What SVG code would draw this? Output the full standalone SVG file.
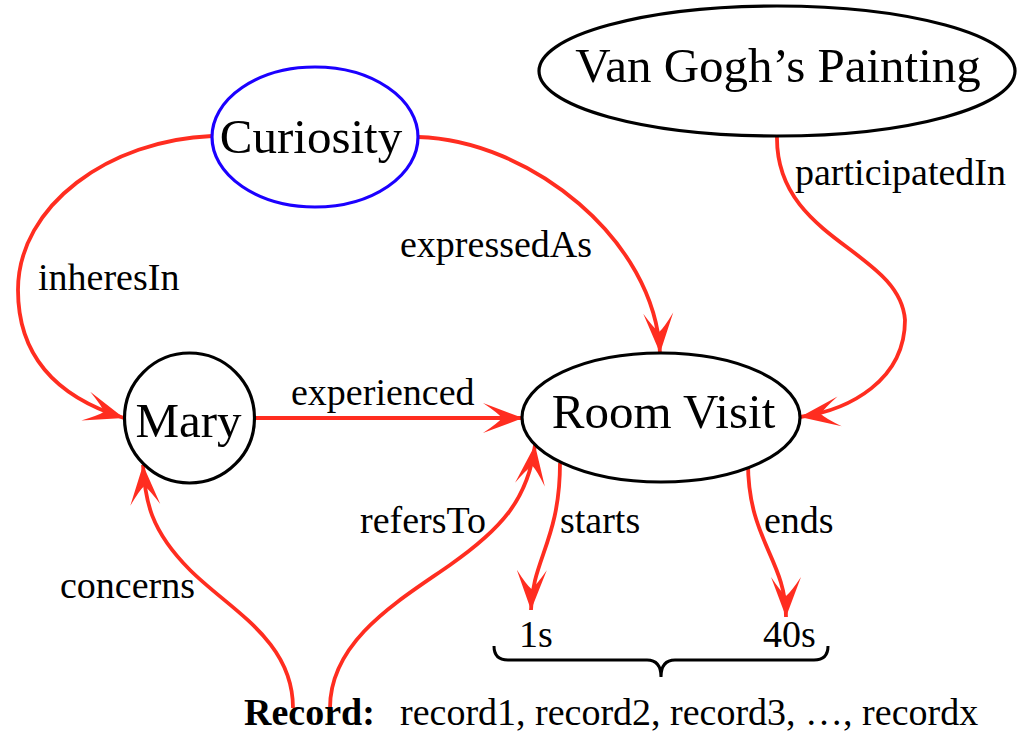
<svg xmlns="http://www.w3.org/2000/svg" width="1026" height="743" viewBox="0 0 1026 743">
<style>
.node{fill:#fff;stroke:#000;stroke-width:3.2}
.nt{font-family:"Liberation Serif","Times New Roman",serif;font-size:49px;fill:#000;text-anchor:middle}
.lb{font-family:"Liberation Serif","Times New Roman",serif;font-size:38px;fill:#000}
.edge{fill:none;stroke:#ff2d20;stroke-width:3.8;marker-end:url(#ah)}
</style>
<defs>
<marker id="ah" markerUnits="userSpaceOnUse" markerWidth="50" markerHeight="40" viewBox="-44 -20 50 40" refX="0" refY="0" orient="auto" overflow="visible">
<path d="M0,0 L-40,-15 Q-25,-5 -21,0 Q-25,5 -40,15 Z" fill="#ff2d20"/>
</marker>
</defs>
<rect width="1026" height="743" fill="#fff"/>
<g id="connectors">
<path class="edge" d="M212,136 C110,140 18,205 18,290 C18,350 50,395 124,418"/>
<path class="edge" d="M418,137 C530,140 655,240 660,353"/>
<path class="edge" d="M777,136 C775,240 900,250 905,320 C905,380 850,410 800,417"/>
<path class="edge" d="M255,418 L523,418"/>
<path class="edge" d="M293,708 C293,640 230,610 190,570 C150,530 145,500 143,465"/>
<path class="edge" d="M330,708 C330,640 400,600 450,565 C500,530 528,500 535,445"/>
<path class="edge" d="M560,463 C560,540 532,560 531,610"/>
<path class="edge" d="M748,463 C748,540 786,560 786,617"/>
<text class="lb" x="38" y="290">inheresIn</text>
<text class="lb" x="400" y="257">expressedAs</text>
<text class="lb" x="795" y="185">participatedIn</text>
<text class="lb" x="291" y="405">experienced</text>
<text class="lb" x="60" y="598">concerns</text>
<text class="lb" x="360" y="533">refersTo</text>
<text class="lb" x="560" y="533">starts</text>
<text class="lb" x="764" y="533">ends</text>
</g>
<g id="curiosity">
<ellipse cx="315" cy="137" rx="103" ry="70" fill="#fff" stroke="#1c00ff" stroke-width="3.2"/>
<text class="nt" x="311" y="153">Curiosity</text>
</g>
<g id="mary">
<circle class="node" cx="189.5" cy="418" r="65"/>
<text class="nt" x="188.5" y="437">Mary</text>
</g>
<g id="roomvisit">
<ellipse class="node" cx="661" cy="417.5" rx="139" ry="64.5"/>
<text class="nt" x="663.5" y="428">Room Visit</text>
</g>
<g id="vangogh">
<ellipse class="node" cx="777" cy="71" rx="238" ry="65"/>
<text class="nt" x="778" y="82">Van Gogh’s Painting</text>
</g>
<g id="timespan">
<text class="lb" x="519" y="647">1s</text>
<text class="lb" x="763" y="647">40s</text>
<path d="M494,646 Q494,660 508,660 L647,660 Q661,660 661,677 Q661,660 675,660 L814,660 Q828,660 828,646" fill="none" stroke="#000" stroke-width="3"/>
</g>
<g id="record">
<text class="lb" x="244" y="725" font-weight="bold">Record:</text>
<text class="lb" x="400" y="725">record1, record2, record3, …, recordx</text>
</g>
</svg>
